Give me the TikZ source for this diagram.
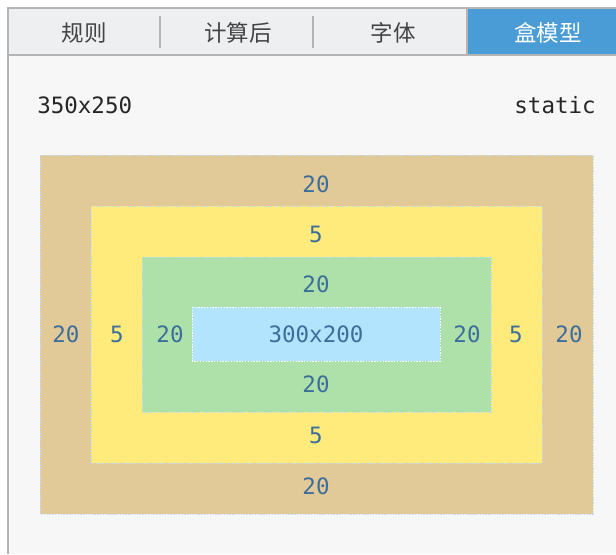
\documentclass[tikz,border=0pt]{standalone}
\usepackage{fontspec}
\setmonofont{DejaVu Sans Mono}
\newfontfamily\cjk{Noto Sans CJK SC}
\definecolor{panelbg}{HTML}{F7F7F7}
\definecolor{tabbg}{HTML}{EEEFF1}
\definecolor{tabactive}{HTML}{4A9CD6}
\definecolor{rulegray}{HTML}{B4B4B4}
\definecolor{tabtext}{HTML}{444444}
\definecolor{marginc}{HTML}{E2C998}
\definecolor{borderc}{HTML}{FFEA7C}
\definecolor{paddingc}{HTML}{AEE1A9}
\definecolor{contentc}{HTML}{B3E4FD}
\definecolor{dotblue}{HTML}{BFDDF6}
\definecolor{labelblue}{HTML}{3C6E9C}

\begin{document}
\begin{tikzpicture}[x=0.025cm, y=-0.025cm,
    every node/.style={inner sep=0pt},
    tablabel/.style={font=\cjk\fontsize{16}{16}\selectfont, text=tabtext},
    sizelabel/.style={font=\ttfamily\fontsize{16}{16}\selectfont, text=black!85},
    boxlabel/.style={font=\ttfamily\fontsize{16}{16}\selectfont, text=labelblue},
    dotline/.style={draw=dotblue, line width=0.7pt, dash pattern=on 1pt off 1pt}]
        \useasboundingbox (0,0) rectangle (616,554);
        \fill[white] (0,0) rectangle (616,554);

        % panel
        \fill[panelbg] (8,8) rectangle (616,554);
        \fill[tabbg] (8,8) rectangle (616,55);
        \fill[tabactive] (467,8) rectangle (616,55);
        \draw[rulegray, line width=1.2pt] (616,8) -- (8,8) -- (8,554);
        \draw[rulegray, line width=1.2pt] (8,55) -- (616,55);
        \draw[rulegray, line width=0.8pt] (467,8) -- (467,55);

        % tab separators
        \foreach \x in {160,313}
            \draw[rulegray, line width=0.8pt] (\x,16) -- (\x,48);

        % tabs
        \node[tablabel] (rules) at (84,33) {规则};
        \node[tablabel] (computed) at (238,33) {计算后};
        \node[tablabel] (fonts) at (393,33) {字体};
        \node[tablabel, text=white] (boxmodel) at (548,33) {盒模型};

        % size and position
        \node[sizelabel, anchor=west] (outer) at (37,105) {350x250};
        \node[sizelabel, anchor=east] (position) at (596,105) {static};

        % boxes
        \foreach \c/\xa/\ya/\xb/\yb in {marginc/40/155/593/514, borderc/91/206/542/463, paddingc/142/257/491/412}
            \draw[dotline, fill=\c] (\xa,\ya) rectangle (\xb,\yb);
        \draw[dotline, draw=white, fill=contentc] (192,307) rectangle (440,361);

        % box labels
        \foreach \n/\x/\y/\t in {mt/316/184/20, bt/316/234/5, pt/316/284/20, pb/316/384/20, bb/316/435/5, mb/316/486/20,
                                 ml/66/334/20, bl/117/334/5, pl/170/334/20, pr/467/334/20, br/516/334/5, mr/569/334/20}
            \node[boxlabel] (\n) at (\x,\y) {\t};
        \node[boxlabel] (content) at (316,334) {300x200};
\end{tikzpicture}
\end{document}
